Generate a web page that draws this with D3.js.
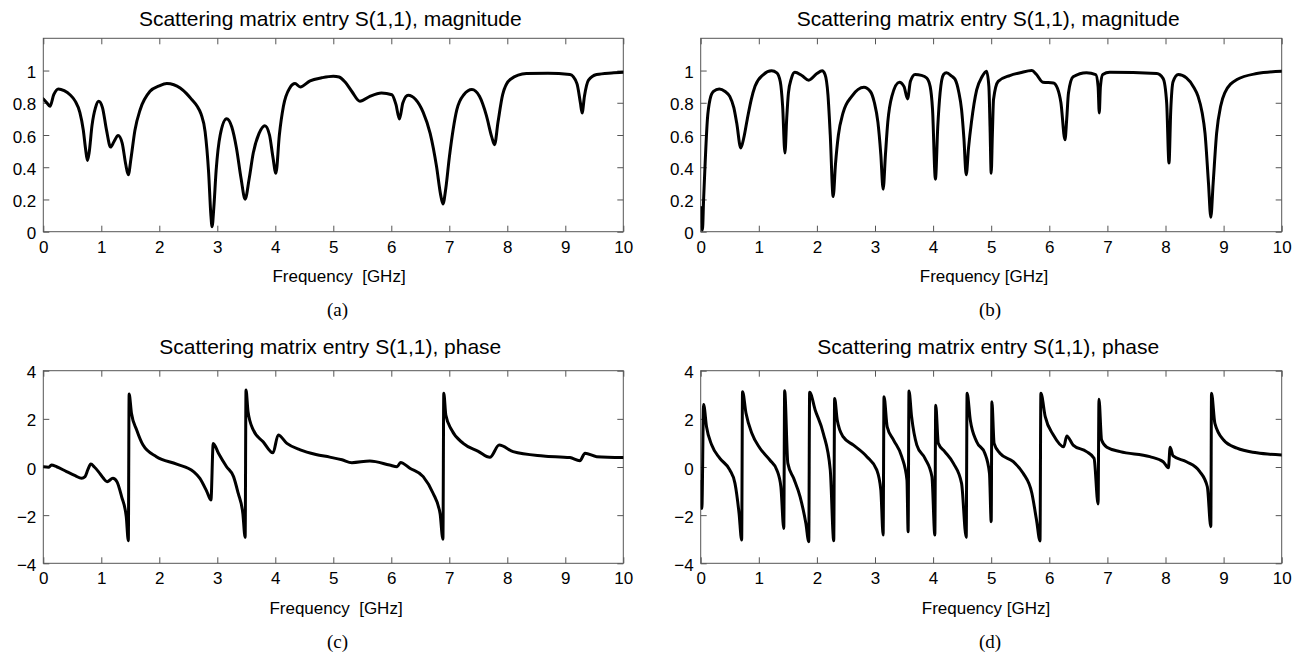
<!DOCTYPE html>
<html>
<head>
<meta charset="utf-8">
<script src="https://cdn.jsdelivr.net/npm/d3@7"></script>
<style>
  html, body { margin: 0; padding: 0; background: #fff; }
  svg { display: block; }
</style>
</head>
<body>
<svg id="chart" width="1299" height="656"></svg>
<script>
// ---------------- DATA ----------------
const xTicks = [0, 1, 2, 3, 4, 5, 6, 7, 8, 9, 10];
const magTicks = [0, 0.2, 0.4, 0.6, 0.8, 1];
const magTickLabels = ["0", "0.2", "0.4", "0.6", "0.8", "1"];
const phaseTicks = [-4, -2, 0, 2, 4];
const phaseTickLabels = ["\u22124", "\u22122", "0", "2", "4"];

const titles = [
  "Scattering matrix entry S(1,1), magnitude",
  "Scattering matrix entry S(1,1), magnitude",
  "Scattering matrix entry S(1,1), phase",
  "Scattering matrix entry S(1,1), phase"
];
const xLabels = ["Frequency  [GHz]", "Frequency [GHz]", "Frequency  [GHz]", "Frequency [GHz]"];
const captions = ["(a)", "(b)", "(c)", "(d)"];

// Panel (a): magnitude
const freqA = [0, 0.06, 0.115, 0.18, 0.26, 0.36, 0.46, 0.55, 0.63, 0.69, 0.73, 0.76, 0.79, 0.84, 0.9, 0.955, 1.02, 1.09, 1.16, 1.22, 1.29, 1.36, 1.42, 1.466, 1.51, 1.58, 1.67, 1.84, 2.0, 2.13, 2.25, 2.36, 2.47, 2.56, 2.65, 2.72, 2.79, 2.85, 2.89, 2.91, 2.94, 2.98, 3.05, 3.16, 3.25, 3.33, 3.41, 3.48, 3.55, 3.62, 3.72, 3.82, 3.9, 3.96, 4.01, 4.07, 4.14, 4.25, 4.34, 4.43, 4.6, 4.8, 5.0, 5.1, 5.2, 5.32, 5.46, 5.63, 5.83, 6.01, 6.08, 6.14, 6.2, 6.29, 6.42, 6.55, 6.67, 6.78, 6.85, 6.89, 6.94, 7.0, 7.13, 7.25, 7.39, 7.52, 7.64, 7.73, 7.78, 7.84, 7.92, 8.05, 8.33, 8.7, 9.08, 9.2, 9.26, 9.29, 9.33, 9.4, 9.54, 9.8, 10];
const magA = [0.824, 0.80, 0.778, 0.85, 0.886, 0.875, 0.85, 0.81, 0.74, 0.63, 0.51, 0.442, 0.49, 0.66, 0.77, 0.809, 0.77, 0.63, 0.525, 0.56, 0.597, 0.55, 0.42, 0.353, 0.45, 0.63, 0.757, 0.871, 0.905, 0.919, 0.912, 0.892, 0.857, 0.82, 0.78, 0.73, 0.62, 0.37, 0.10, 0.031, 0.15, 0.38, 0.60, 0.701, 0.65, 0.52, 0.33, 0.202, 0.33, 0.488, 0.61, 0.658, 0.6, 0.46, 0.363, 0.6, 0.778, 0.892, 0.919, 0.898, 0.936, 0.955, 0.965, 0.96, 0.93, 0.87, 0.809, 0.840, 0.861, 0.85, 0.79, 0.699, 0.80, 0.846, 0.82, 0.74, 0.61, 0.404, 0.23, 0.172, 0.27, 0.46, 0.757, 0.85, 0.882, 0.84, 0.72, 0.59, 0.540, 0.68, 0.85, 0.944, 0.981, 0.983, 0.975, 0.92, 0.80, 0.737, 0.84, 0.94, 0.975, 0.985, 0.989];

// Panel (b): magnitude
const freqB = [0, 0.015, 0.03, 0.05, 0.074, 0.115, 0.16, 0.22, 0.32, 0.42, 0.5, 0.57, 0.62, 0.69, 0.74, 0.8, 0.87, 0.935, 1.08, 1.22, 1.31, 1.37, 1.41, 1.45, 1.48, 1.51, 1.56, 1.62, 1.74, 1.86, 2.0, 2.09, 2.14, 2.19, 2.23, 2.28, 2.32, 2.37, 2.45, 2.6, 2.81, 2.92, 2.99, 3.05, 3.1, 3.14, 3.18, 3.22, 3.29, 3.42, 3.5, 3.56, 3.61, 3.69, 3.8, 3.89, 3.95, 3.99, 4.04, 4.08, 4.12, 4.18, 4.23, 4.32, 4.38, 4.44, 4.49, 4.53, 4.57, 4.61, 4.66, 4.75, 4.84, 4.92, 4.96, 4.98, 5.0, 5.02, 5.04, 5.12, 5.32, 5.5, 5.7, 5.78, 5.89, 6.07, 6.14, 6.2, 6.27, 6.3, 6.33, 6.41, 6.64, 6.8, 6.84, 6.86, 6.88, 6.92, 7.04, 7.85, 7.96, 8.02, 8.06, 8.09, 8.13, 8.22, 8.36, 8.48, 8.56, 8.63, 8.68, 8.74, 8.78, 8.82, 8.88, 8.95, 9.02, 9.23, 9.57, 10];
const magB = [0.15, 0.06, 0.01, 0.2, 0.405, 0.695, 0.82, 0.87, 0.886, 0.87, 0.84, 0.77, 0.674, 0.519, 0.58, 0.695, 0.82, 0.902, 0.975, 0.998, 0.985, 0.93, 0.78, 0.488, 0.70, 0.861, 0.95, 0.989, 0.969, 0.94, 0.981, 0.998, 0.975, 0.85, 0.60, 0.218, 0.42, 0.60, 0.737, 0.84, 0.896, 0.87, 0.80, 0.68, 0.48, 0.264, 0.48, 0.68, 0.84, 0.927, 0.90, 0.824, 0.933, 0.975, 0.97, 0.954, 0.90, 0.76, 0.326, 0.65, 0.86, 0.975, 0.986, 0.965, 0.944, 0.87, 0.757, 0.58, 0.353, 0.52, 0.68, 0.88, 0.96, 0.996, 0.902, 0.65, 0.363, 0.60, 0.82, 0.933, 0.969, 0.986, 1.0, 0.975, 0.927, 0.923, 0.89, 0.80, 0.571, 0.70, 0.861, 0.961, 0.986, 0.975, 0.90, 0.737, 0.90, 0.975, 0.989, 0.981, 0.95, 0.80, 0.426, 0.75, 0.93, 0.975, 0.954, 0.90, 0.84, 0.74, 0.612, 0.30, 0.09, 0.30, 0.612, 0.78, 0.861, 0.944, 0.981, 0.996];

// Panel (c): phase
const freqC = [0, 0.09, 0.14, 0.23, 0.40, 0.55, 0.66, 0.72, 0.77, 0.82, 0.88, 0.95, 1.03, 1.10, 1.2, 1.27, 1.35, 1.43, 1.466, 1.48, 1.52, 1.61, 1.72, 1.95, 2.30, 2.59, 2.70, 2.82, 2.89, 2.93, 3.02, 3.16, 3.28, 3.36, 3.44, 3.48, 3.495, 3.53, 3.62, 3.79, 3.96, 4.05, 4.20, 4.43, 4.7, 4.94, 5.15, 5.32, 5.63, 5.97, 6.10, 6.16, 6.32, 6.55, 6.72, 6.84, 6.89, 6.905, 6.94, 7.04, 7.24, 7.5, 7.70, 7.86, 8.10, 8.62, 9.08, 9.25, 9.34, 9.54, 10];
const phaseC = [0.01, -0.01, 0.08, 0.01, -0.19, -0.36, -0.47, -0.40, -0.1, 0.12, 0.0, -0.19, -0.45, -0.61, -0.47, -0.61, -1.23, -2.06, -3.06, 3.03, 2.23, 1.54, 0.91, 0.43, 0.12, -0.19, -0.47, -1.02, -1.37, 0.98, 0.57, 0.01, -0.40, -1.09, -1.92, -2.92, 3.20, 2.30, 1.54, 1.05, 0.59, 1.33, 0.98, 0.71, 0.52, 0.41, 0.3, 0.18, 0.25, 0.08, 0.01, 0.19, -0.05, -0.40, -1.09, -1.92, -3.0, 3.06, 2.16, 1.54, 0.98, 0.65, 0.40, 0.91, 0.64, 0.46, 0.39, 0.26, 0.57, 0.43, 0.39];

// Panel (d): phase
const freqD = [0, 0.02, 0.05, 0.10, 0.19, 0.33, 0.50, 0.59, 0.66, 0.705, 0.72, 0.78, 0.88, 1.02, 1.19, 1.31, 1.38, 1.43, 1.445, 1.50, 1.60, 1.71, 1.81, 1.86, 1.875, 1.97, 2.11, 2.23, 2.29, 2.305, 2.35, 2.45, 2.63, 2.86, 3.03, 3.10, 3.14, 3.155, 3.21, 3.32, 3.46, 3.55, 3.57, 3.585, 3.63, 3.72, 3.86, 3.98, 4.03, 4.045, 4.09, 4.20, 4.35, 4.49, 4.57, 4.585, 4.64, 4.75, 4.89, 4.97, 5.0, 5.012, 5.05, 5.15, 5.38, 5.55, 5.70, 5.78, 5.84, 5.855, 5.93, 6.07, 6.25, 6.30, 6.41, 6.64, 6.77, 6.84, 6.855, 6.90, 6.99, 7.22, 7.73, 7.96, 8.05, 8.08, 8.13, 8.36, 8.59, 8.72, 8.78, 8.792, 8.85, 9.0, 9.23, 9.57, 10];
const phaseD = [-0.6, -1.72, 2.6, 1.67, 0.91, 0.36, -0.12, -0.68, -1.92, -3.03, 3.13, 2.23, 1.40, 0.78, 0.29, -0.12, -0.82, -2.55, 3.17, 0.15, -0.47, -1.23, -2.34, -3.10, 3.11, 2.37, 1.40, -0.12, -3.06, 2.85, 1.95, 1.26, 0.91, 0.43, -0.12, -0.95, -2.82, 2.92, 1.67, 1.12, 0.43, -0.54, -2.69, 3.16, 2.09, 0.91, 0.36, -0.40, -2.82, 2.57, 0.98, 0.64, 0.15, -0.68, -2.92, 3.06, 1.95, 1.05, 0.57, -0.26, -2.27, 2.71, 0.98, 0.57, 0.22, -0.26, -1.09, -2.20, -3.07, 3.06, 2.09, 1.33, 0.84, 1.29, 0.91, 0.64, 0.36, -1.54, 2.81, 1.12, 0.82, 0.64, 0.43, 0.22, -0.03, 0.82, 0.46, 0.22, -0.19, -0.82, -2.48, 3.06, 1.81, 1.12, 0.78, 0.59, 0.50];

// ---------------- LAYOUT ----------------
const svg = d3.select("#chart");
const sansFont = "'Liberation Sans', Arial, Helvetica, sans-serif";
const serifFont = "'Liberation Serif', 'Times New Roman', serif";

const colLeft = [{x0: 43.3, x1: 623.3}, {x0: 700.7, x1: 1281.7}];
const rowTop = [{y0: 38.3, y1: 231.7}, {y0: 370.7, y1: 563.3}];

const panels = [
  {col: 0, row: 0, f: freqA, v: magA, kind: "mag", titleY: 26, capX: 337.5, labX: 339},
  {col: 1, row: 0, f: freqB, v: magB, kind: "mag", titleY: 26, capX: 990, labX: 984},
  {col: 0, row: 1, f: freqC, v: phaseC, kind: "phase", titleY: 353.5, capX: 337.5, labX: 336},
  {col: 1, row: 1, f: freqD, v: phaseD, kind: "phase", titleY: 354, capX: 990, labX: 986}
];

const frameColor = "#555";
const tickLen = 6;
const tickFont = "17px";

panels.forEach((p, i) => {
  const c = colLeft[p.col], r = rowTop[p.row];
  const x = d3.scaleLinear().domain([0, 10]).range([c.x0, c.x1]);
  const y = p.kind === "mag"
    ? d3.scaleLinear().domain([0, 1.2]).range([r.y1, r.y0])
    : d3.scaleLinear().domain([-4, 4]).range([r.y1, r.y0]);
  const yT = p.kind === "mag" ? magTicks : phaseTicks;
  const yL = p.kind === "mag" ? magTickLabels : phaseTickLabels;

  const g = svg.append("g");

  const clipId = "clip" + i;
  svg.append("clipPath").attr("id", clipId)
    .append("rect").attr("x", c.x0).attr("y", r.y0)
    .attr("width", c.x1 - c.x0).attr("height", r.y1 - r.y0);

  const axB = d3.axisBottom(x).tickValues(xTicks).tickSize(-tickLen).tickPadding(9).tickFormat(d3.format("d"));
  const axT = d3.axisTop(x).tickValues(xTicks).tickSize(-tickLen).tickFormat("");
  const axL = d3.axisLeft(y).tickValues(yT).tickSize(-tickLen).tickPadding(7).tickFormat((d, k) => yL[k]);
  const axR = d3.axisRight(y).tickValues(yT).tickSize(-tickLen).tickFormat("");

  const gB = g.append("g").attr("transform", `translate(0,${r.y1})`).call(axB);
  const gT = g.append("g").attr("transform", `translate(0,${r.y0})`).call(axT);
  const gL = g.append("g").attr("transform", `translate(${c.x0},0)`).call(axL);
  const gR = g.append("g").attr("transform", `translate(${c.x1},0)`).call(axR);

  [gB, gT, gL, gR].forEach(a => {
    a.select(".domain").remove();
    a.selectAll(".tick line").attr("stroke", frameColor).attr("stroke-width", 1);
    a.selectAll(".tick text")
      .attr("fill", "#000")
      .style("font-family", sansFont)
      .style("font-size", tickFont);
  });
  gB.selectAll(".tick text").attr("dy", null).attr("y", 21).attr("dominant-baseline", "alphabetic");
  gL.selectAll(".tick text").attr("dy", "0.42em");

  g.append("rect")
    .attr("x", c.x0).attr("y", r.y0)
    .attr("width", c.x1 - c.x0).attr("height", r.y1 - r.y0)
    .attr("fill", "none").attr("stroke", frameColor).attr("stroke-width", 1);

  const pts = p.f.map((f, k) => [f, p.v[k]]);
  const line = d3.line().x(d => x(d[0])).y(d => y(d[1])).curve(d3.curveMonotoneX);
  g.append("path")
    .datum(pts)
    .attr("clip-path", `url(#${clipId})`)
    .attr("d", line)
    .attr("fill", "none")
    .attr("stroke", "#000")
    .attr("stroke-width", 3)
    .attr("stroke-linejoin", "round")
    .attr("stroke-linecap", "round");

  g.append("text")
    .attr("x", (c.x0 + c.x1) / 2 - 3)
    .attr("y", p.titleY)
    .attr("text-anchor", "middle")
    .style("font-family", sansFont)
    .style("font-size", "21px")
    .text(titles[i]);

  g.append("text")
    .attr("x", p.labX)
    .attr("y", r.y1 + 50.5)
    .attr("text-anchor", "middle")
    .style("font-family", sansFont)
    .style("font-size", tickFont)
    .style("white-space", "pre")
    .text(xLabels[i]);

  g.append("text")
    .attr("x", p.capX)
    .attr("y", r.y1 + 84.5)
    .attr("text-anchor", "middle")
    .style("font-family", serifFont)
    .style("font-size", "19px")
    .text(captions[i]);
});
</script>
</body>
</html>
